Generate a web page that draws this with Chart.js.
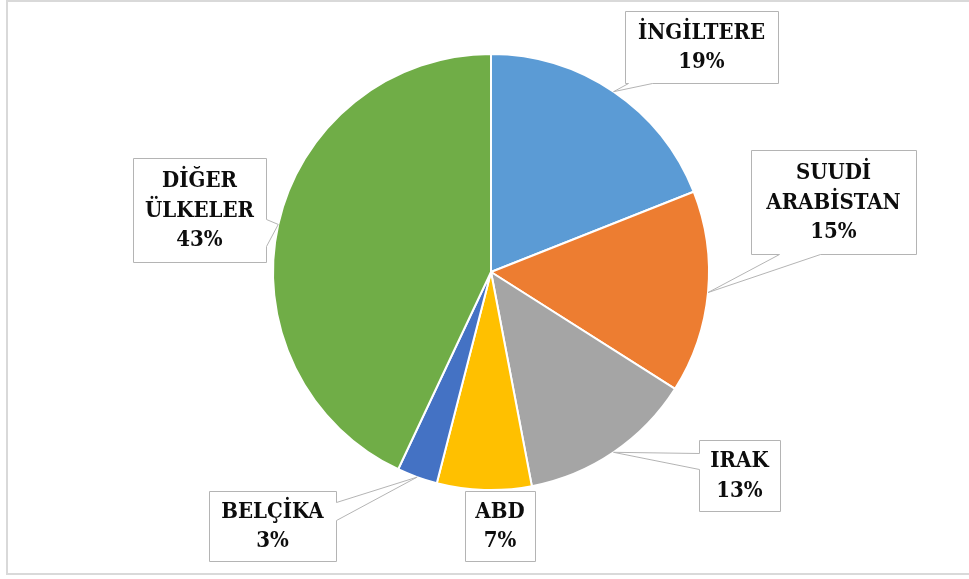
<!DOCTYPE html>
<html>
<head>
<meta charset="utf-8">
<script src="https://cdn.jsdelivr.net/npm/chart.js@4/dist/chart.umd.min.js"></script>
<style>
  html, body { margin: 0; padding: 0; background: #fff; }
  canvas { display: block; }
</style>
</head>
<body>
<canvas id="ulkeChart" width="969" height="579"></canvas>
<script>
  // kategoriler ve yüzdeler
  const categories = [['İNGİLTERE'], ['SUUDİ', 'ARABİSTAN'], ['IRAK'], ['ABD'], ['BELÇİKA'], ['DİĞER', 'ÜLKELER']];
  const shares = [19, 15, 13, 7, 3, 43];
  const colors = ['#5B9BD5', '#ED7D31', '#A5A5A5', '#FFC000', '#4472C4', '#70AD47'];

  // etiket kutularının yeri (x, y, w, h) ve ok tarafı
  const callouts = [
    { x: 625, y: 11, w: 153, h: 72, side: 'bottom', a: 628, b: 652 },
    { x: 751, y: 150, w: 165, h: 104, side: 'bottom', a: 779, b: 820 },
    { x: 699, y: 440, w: 81, h: 71, side: 'left', a: 453, b: 469 },
    { x: 465, y: 491, w: 70, h: 70, side: null },
    { x: 209, y: 491, w: 127, h: 70, side: 'right', a: 502, b: 520 },
    { x: 133, y: 158, w: 133, h: 104, side: 'right', a: 219, b: 246 }
  ];

  const calloutPlugin = {
    id: 'callouts',
    afterDraw(chart) {
      const c = chart.ctx;
      const meta = chart.getDatasetMeta(0);
      c.save();
      // çerçeve
      c.strokeStyle = '#d9d9d9';
      c.lineWidth = 2;
      c.strokeRect(7, 1, 975, 573);

      meta.data.forEach((arc, i) => {
        const box = callouts[i];
        const mid = (arc.startAngle + arc.endAngle) / 2;
        const ax = arc.x + Math.cos(mid) * arc.outerRadius;
        const ay = arc.y + Math.sin(mid) * arc.outerRadius;
        const L = box.x + 0.5, T = box.y + 0.5, R = box.x + box.w + 0.5, B = box.y + box.h + 0.5;
        c.beginPath();
        c.moveTo(L, T);
        c.lineTo(R, T);
        if (box.side === 'right') {
          c.lineTo(R, box.a + 0.5); c.lineTo(ax, ay); c.lineTo(R, box.b + 0.5);
        }
        c.lineTo(R, B);
        if (box.side === 'bottom') {
          c.lineTo(box.b + 0.5, B); c.lineTo(ax, ay); c.lineTo(box.a + 0.5, B);
        }
        c.lineTo(L, B);
        if (box.side === 'left') {
          c.lineTo(L, box.b + 0.5); c.lineTo(ax, ay); c.lineTo(L, box.a + 0.5);
        }
        c.closePath();
        c.fillStyle = '#ffffff';
        c.fill();
        c.strokeStyle = '#b4b4b4';
        c.lineWidth = 1;
        c.stroke();

        const lines = chart.data.labels[i].concat([chart.data.datasets[0].data[i] + '%']);
        c.fillStyle = '#0d0d0d';
        c.font = 'bold 22px "DejaVu Serif Condensed", "DejaVu Serif"';
        c.textAlign = 'center';
        c.textBaseline = 'middle';
        const lh = 29.5;
        const cx = box.x + box.w / 2;
        const cy = box.y + box.h / 2 + 1;
        lines.forEach((t, k) => {
          c.fillText(t, cx, cy + (k - (lines.length - 1) / 2) * lh);
        });
      });
      c.restore();
    }
  };

  new Chart(document.getElementById('ulkeChart'), {
    type: 'pie',
    data: {
      labels: categories,
      datasets: [{
        data: shares,
        backgroundColor: colors,
        borderColor: '#ffffff',
        borderWidth: 2
      }]
    },
    options: {
      responsive: false,
      animation: false,
      layout: { padding: { top: 53, bottom: 88, left: 13, right: 0 } },
      plugins: {
        legend: { display: false },
        tooltip: { enabled: false }
      }
    },
    plugins: [calloutPlugin]
  });
</script>
</body>
</html>
